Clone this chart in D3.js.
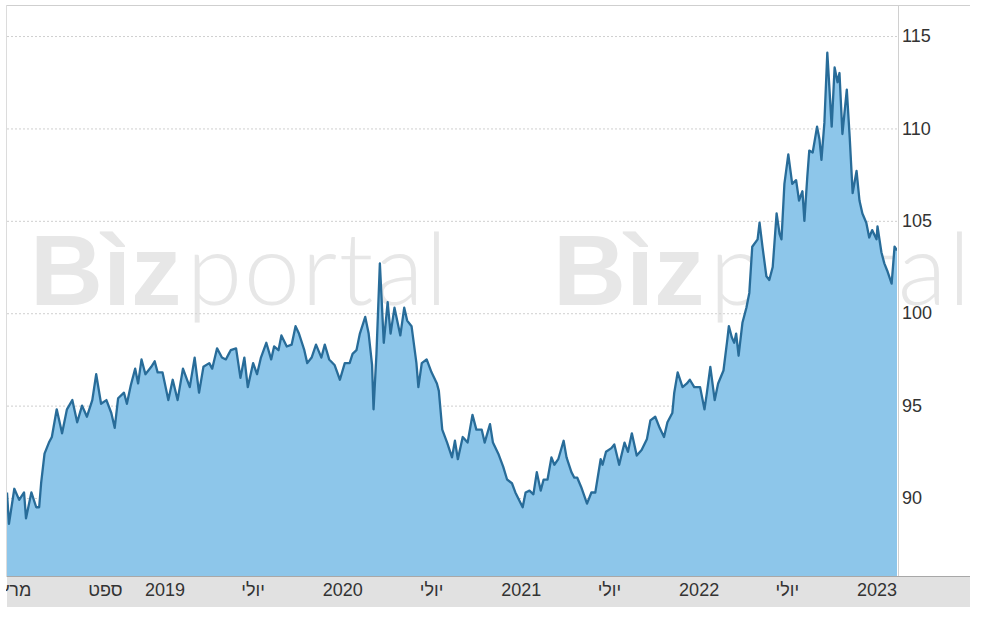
<!DOCTYPE html>
<html>
<head>
<meta charset="utf-8">
<script src="https://cdn.jsdelivr.net/npm/d3@7"></script>
<style>
  html, body { margin: 0; padding: 0; background: #ffffff; }
  svg { display: block; }
</style>
</head>
<body>
<svg id="chart" width="982" height="620"></svg>
<script>
const dates = [
"2018-02-12","2018-02-16","2018-02-27","2018-03-09","2018-03-19","2018-03-23","2018-04-03","2018-04-13","2018-04-19","2018-04-23",
"2018-04-30","2018-05-09","2018-05-15","2018-05-25","2018-06-05","2018-06-15","2018-06-26","2018-07-06","2018-07-16","2018-07-26",
"2018-08-06","2018-08-14","2018-08-24","2018-09-04","2018-09-14","2018-09-21","2018-09-28","2018-10-10","2018-10-16","2018-10-24",
"2018-11-02","2018-11-08","2018-11-15","2018-11-23","2018-12-05","2018-12-12","2018-12-18","2018-12-28","2019-01-09","2019-01-18",
"2019-01-28","2019-02-08","2019-02-22","2019-03-04","2019-03-13","2019-03-22","2019-04-03","2019-04-09","2019-04-19","2019-04-29",
"2019-05-07","2019-05-13","2019-05-17","2019-05-28","2019-06-06","2019-06-14","2019-06-21","2019-07-02","2019-07-10","2019-07-18",
"2019-07-29","2019-08-08","2019-08-14","2019-08-23","2019-08-29","2019-09-09","2019-09-19","2019-09-27","2019-10-04","2019-10-15",
"2019-10-21","2019-10-30","2019-11-08","2019-11-19","2019-11-26","2019-12-05","2019-12-16","2019-12-27","2020-01-06","2020-01-16",
"2020-01-22","2020-01-30","2020-02-06","2020-02-17","2020-02-24","2020-03-02","2020-03-05","2020-03-11","2020-03-18","2020-03-26",
"2020-04-03","2020-04-09","2020-04-17","2020-04-29","2020-05-07","2020-05-13","2020-05-22","2020-06-01","2020-06-05","2020-06-12",
"2020-06-22","2020-07-02","2020-07-13","2020-07-17","2020-07-24","2020-08-03","2020-08-13","2020-08-19","2020-08-25","2020-09-04",
"2020-09-14","2020-09-24","2020-10-02","2020-10-13","2020-10-19","2020-10-30","2020-11-05","2020-11-16","2020-11-26","2020-12-04",
"2020-12-14","2020-12-21","2021-01-05","2021-01-11","2021-01-19","2021-01-27","2021-02-03","2021-02-11","2021-02-17","2021-02-25",
"2021-03-05","2021-03-11","2021-03-19","2021-03-30","2021-04-05","2021-04-15","2021-04-21","2021-04-27","2021-05-05","2021-05-17",
"2021-05-26","2021-06-03","2021-06-14","2021-06-18","2021-06-25","2021-07-06","2021-07-12","2021-07-22","2021-08-02","2021-08-09",
"2021-08-17","2021-08-27","2021-09-06","2021-09-17","2021-09-24","2021-10-04","2021-10-13","2021-10-22","2021-10-29","2021-11-08",
"2021-11-12","2021-11-19","2021-11-29","2021-12-08","2021-12-14","2021-12-23","2022-01-04","2022-01-13","2022-01-18","2022-01-25",
"2022-02-03","2022-02-10","2022-02-21","2022-03-01","2022-03-04","2022-03-10","2022-03-15","2022-03-19","2022-03-24","2022-04-01",
"2022-04-09","2022-04-15","2022-04-21","2022-05-02","2022-05-06","2022-05-12","2022-05-20","2022-05-26","2022-06-02","2022-06-10",
"2022-06-16","2022-06-20","2022-06-26","2022-07-04","2022-07-12","2022-07-20","2022-07-26","2022-08-02","2022-08-06","2022-08-12",
"2022-08-16","2022-08-23","2022-09-01","2022-09-06","2022-09-10","2022-09-16","2022-09-22","2022-10-01","2022-10-07","2022-10-13",
"2022-10-17","2022-10-23","2022-11-01","2022-11-07","2022-11-13","2022-11-21","2022-11-27","2022-12-03","2022-12-11","2022-12-17",
"2022-12-23","2023-01-01","2023-01-03","2023-01-11","2023-01-17","2023-01-23","2023-02-01","2023-02-07","2023-02-12"
];
const values = [
90.3,88.6,90.5,89.9,90.3,88.9,90.3,89.5,89.5,90.8,
92.4,93.0,93.3,94.8,93.5,94.8,95.3,94.1,95.0,94.4,
95.3,96.7,95.1,95.3,94.6,93.8,95.4,95.7,95.1,96.1,
97.0,96.2,97.5,96.7,97.1,97.4,96.8,96.8,95.3,96.4,
95.3,97.0,96.0,97.6,95.7,97.1,97.3,97.0,98.1,97.6,
97.5,97.8,98.0,98.1,96.5,97.6,96.0,97.3,96.7,97.6,
98.4,97.5,98.2,98.0,98.8,98.2,98.3,99.3,98.9,98.0,
97.3,97.6,98.3,97.6,98.3,97.5,97.2,96.4,97.3,97.3,
97.8,98.0,98.9,99.8,98.9,97.2,94.8,97.8,102.7,98.4,
100.6,98.9,100.3,98.8,100.3,99.6,99.3,97.3,96.0,97.3,
97.5,96.8,96.2,95.8,93.7,93.0,92.2,93.1,92.1,93.3,
93.0,94.5,93.7,93.7,93.0,94.0,93.0,92.4,91.7,91.0,
90.8,90.3,89.5,90.3,90.4,90.2,91.4,90.4,91.0,91.0,
92.2,91.8,92.1,93.1,92.2,91.4,91.1,91.1,90.6,89.7,
90.3,90.3,92.1,91.8,92.5,92.7,92.9,91.8,93.0,92.5,
93.5,92.3,92.6,93.2,94.2,94.4,93.8,93.3,94.1,94.6,
95.7,96.8,96.0,96.2,96.4,96.0,96.0,94.8,95.7,97.1,
95.3,96.2,96.9,98.6,99.3,98.7,98.4,98.9,97.7,99.5,
100.3,101.1,103.6,104.0,104.9,103.6,102.0,101.8,102.5,105.4,
104.3,104.0,107.0,108.6,107.0,107.2,106.1,106.6,105.0,107.4,
108.8,108.7,110.1,109.4,108.3,110.3,114.1,110.1,113.3,112.5,
113.0,109.7,112.1,109.5,106.5,107.7,106.1,105.4,104.9,104.1,
104.5,104.0,104.7,103.3,102.7,102.3,101.6,103.6,103.4
];
const yTicks = [90, 95, 100, 105, 110, 115];
const xTickDates = ["2018-03-01","2018-09-01","2019-01-01","2019-07-01","2020-01-01","2020-07-01","2021-01-01","2021-07-01","2022-01-01","2022-07-01","2023-01-01"];
const xTickLabels = ["מרץ","ספט","2019","יולי","2020","יולי","2021","יולי","2022","יולי","2023"];
const watermark = ["Bìz", "portal"];

const parse = d3.timeParse("%Y-%m-%d");
const data = dates.map((d, i) => ({ date: parse(d), value: values[i] }));

const plot = { left: 7, right: 897, top: 5, bottom: 576 };
const svg = d3.select("#chart");

const x = d3.scaleTime()
  .domain([parse("2018-02-12"), parse("2023-02-12")])
  .range([plot.left, plot.right]);
const y = d3.scaleLinear()
  .domain([85.78, 116.68])
  .range([plot.bottom, plot.top]);

// frame
svg.append("line").attr("x1", 6).attr("x2", 970).attr("y1", 5.5).attr("y2", 5.5)
  .attr("stroke", "#cfcfcf").attr("stroke-width", 1);
svg.append("line").attr("x1", 6.5).attr("x2", 6.5).attr("y1", 5).attr("y2", 577)
  .attr("stroke", "#dcdcdc").attr("stroke-width", 1);

// watermark
const wm = svg.append("g").attr("fill", "#e7e7e7");
[30, 553].forEach(x0 => {
  const t = wm.append("text").attr("x", x0).attr("y", 305)
    .attr("font-family", "Liberation Sans, Arial, sans-serif").attr("font-size", 101);
  t.append("tspan").attr("font-weight", "bold").text(watermark[0]);
  t.append("tspan").attr("font-family", "Lato, Roboto, Liberation Sans, sans-serif")
    .attr("font-weight", 300).attr("letter-spacing", 1.5).attr("dx", 5).text(watermark[1]);
});

// gridlines
const grid = svg.append("g").attr("transform", `translate(${plot.right},0)`)
  .call(d3.axisLeft(y).tickValues(yTicks).tickSize(plot.right - plot.left).tickFormat(""));
grid.select(".domain").remove();
grid.selectAll(".tick line").attr("stroke", "#cfcfcf").attr("stroke-dasharray", "2,2");

// clip
svg.append("defs").append("clipPath").attr("id", "plotclip")
  .append("rect").attr("x", plot.left).attr("y", plot.top)
  .attr("width", plot.right - plot.left).attr("height", plot.bottom - plot.top);

const area = d3.area().x(d => x(d.date)).y0(plot.bottom).y1(d => y(d.value));
const line = d3.line().x(d => x(d.date)).y(d => y(d.value));

const g = svg.append("g").attr("clip-path", "url(#plotclip)");
g.append("path").datum(data).attr("d", area).attr("fill", "#8dc6ea");
g.append("path").datum(data).attr("d", line).attr("fill", "none")
  .attr("stroke", "#286c99").attr("stroke-width", 2.3).attr("stroke-linejoin", "round");

// right axis line
svg.append("line").attr("x1", 898.5).attr("x2", 898.5).attr("y1", 5).attr("y2", 577)
  .attr("stroke", "#d0d0d0").attr("stroke-width", 1);

// y labels
const yAxis = svg.append("g").attr("transform", `translate(${plot.right + 5},0)`)
  .call(d3.axisRight(y).tickValues(yTicks).tickSize(0).tickPadding(0).tickFormat(d3.format("d")));
yAxis.select(".domain").remove();
yAxis.selectAll("text").attr("fill", "#333").attr("font-size", 18)
  .attr("font-family", "Liberation Sans, Arial, sans-serif");

// x band
svg.append("rect").attr("x", 7).attr("y", 577).attr("width", 963).attr("height", 30).attr("fill", "#e1e1e1");
svg.append("line").attr("x1", 7).attr("x2", 970).attr("y1", 576.5).attr("y2", 576.5)
  .attr("stroke", "#a8a8a8").attr("stroke-width", 1);

svg.select("defs").append("clipPath").attr("id", "bandclip")
  .append("rect").attr("x", 6).attr("y", 577).attr("width", 964).attr("height", 40);

const xAxis = svg.append("g").attr("transform", "translate(0,583)")
  .call(d3.axisBottom(x).tickValues(xTickDates.map(parse)).tickSize(0).tickPadding(0)
    .tickFormat((d, i) => xTickLabels[i]));
xAxis.select(".domain").remove();
xAxis.selectAll("text").attr("fill", "#333").attr("font-size", 18)
  .attr("font-family", "Liberation Sans, Arial, sans-serif");
svg.append("g").attr("clip-path", "url(#bandclip)").node().appendChild(xAxis.node());
</script>
</body>
</html>
